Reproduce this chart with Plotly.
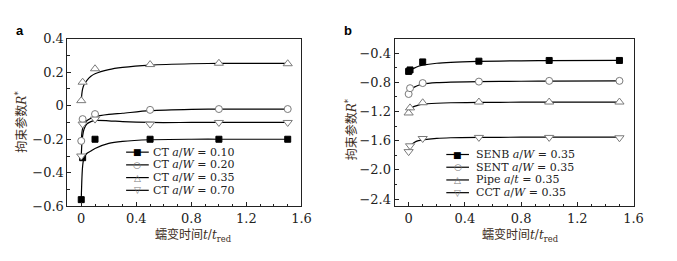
import plotly.graph_objects as go

W, H = 677, 261

# ---------- data ----------
t_pts = [0, 0.01, 0.1, 0.5, 1.0, 1.5]
ct010 = [-0.56, -0.31, -0.20, -0.20, -0.20, -0.20]
ct020 = [-0.21, -0.08, -0.05, -0.025, -0.02, -0.02]
ct035 = [0.03, 0.14, 0.22, 0.245, 0.253, 0.25]
ct070 = [-0.30, -0.11, -0.08, -0.11, -0.10, -0.10]

senb = [-0.65, -0.63, -0.52, -0.51, -0.50, -0.50]
sent = [-0.96, -0.88, -0.81, -0.79, -0.78, -0.78]
pipe = [-1.22, -1.15, -1.08, -1.07, -1.07, -1.07]
cct = [-1.75, -1.67, -1.57, -1.555, -1.555, -1.56]

t_fit = [0, 0.005, 0.01, 0.02, 0.04, 0.07, 0.1, 0.2, 0.3, 0.5, 0.8, 1.0, 1.5]
ct010_fit = [-0.56, -0.43, -0.36, -0.31, -0.285, -0.27, -0.255, -0.225, -0.213, -0.203, -0.2, -0.2, -0.2]
ct020_fit = [-0.21, -0.16, -0.135, -0.115, -0.09, -0.075, -0.065, -0.052, -0.045, -0.03, -0.022, -0.02, -0.02]
ct035_fit = [0.03, 0.075, 0.10, 0.125, 0.15, 0.175, 0.19, 0.215, 0.228, 0.242, 0.25, 0.252, 0.252]
ct070_fit = [-0.30, -0.22, -0.18, -0.14, -0.11, -0.095, -0.088, -0.09, -0.095, -0.10, -0.10, -0.10, -0.10]

senb_fit = [-0.66, -0.65, -0.64, -0.625, -0.605, -0.58, -0.565, -0.538, -0.525, -0.513, -0.505, -0.503, -0.50]
sent_fit = [-0.93, -0.91, -0.90, -0.885, -0.865, -0.84, -0.825, -0.805, -0.797, -0.79, -0.785, -0.783, -0.78]
pipe_fit = [-1.19, -1.175, -1.165, -1.15, -1.13, -1.112, -1.10, -1.087, -1.08, -1.075, -1.072, -1.07, -1.07]
cct_fit = [-1.75, -1.72, -1.69, -1.655, -1.625, -1.60, -1.588, -1.568, -1.56, -1.555, -1.552, -1.55, -1.55]

labels_a = ["CT <i>a</i>/<i>W</i> = 0.10", "CT <i>a</i>/<i>W</i> = 0.20",
            "CT <i>a</i>/<i>W</i> = 0.35", "CT <i>a</i>/<i>W</i> = 0.70"]
labels_b = ["SENB <i>a</i>/<i>W</i> = 0.35", "SENT <i>a</i>/<i>W</i> = 0.35",
            "Pipe <i>a</i>/<i>t</i> = 0.35", "CCT <i>a</i>/<i>W</i> = 0.35"]

# ---------- styles ----------
SERIF = "DejaVu Serif, Noto Sans CJK SC"
TITLE_COL = "#3d2e22"
GRAY = "#7a7a7a"
styles = [
    dict(symbol="square", color="black", size=6, line=dict(color="black", width=1)),
    dict(symbol="circle", color="white", size=7, line=dict(color=GRAY, width=1)),
    dict(symbol="triangle-up", color="white", size=8, line=dict(color=GRAY, width=1)),
    dict(symbol="triangle-down", color="white", size=8, line=dict(color=GRAY, width=1)),
]
glyphs = [("■", "black"), ("○", GRAY), ("△", GRAY), ("▽", GRAY)]

fig = go.Figure()

def add_panel(xa, ya, pts, fits):
    for f in fits:
        fig.add_trace(go.Scatter(x=t_fit, y=f, mode="lines", xaxis=xa, yaxis=ya,
                                 line=dict(color="black", width=1.2, shape="spline", smoothing=0.8),
                                 showlegend=False, hoverinfo="skip"))
    for p, st in zip(pts, styles):
        fig.add_trace(go.Scatter(x=t_pts, y=p, mode="markers", xaxis=xa, yaxis=ya,
                                 marker=st, showlegend=False))

add_panel("x", "y", [ct010, ct020, ct035, ct070], [ct010_fit, ct020_fit, ct035_fit, ct070_fit])
add_panel("x2", "y2", [senb, sent, pipe, cct], [senb_fit, sent_fit, pipe_fit, cct_fit])

def px(x):
    return x / W

def py(y):
    return 1 - y / H

axis_common = dict(showline=True, mirror=True, linecolor="#222", linewidth=1,
                   ticks="inside", ticklen=4, tickcolor="#222", showgrid=False, zeroline=False,
                   tickfont=dict(family=SERIF, size=13, color="#222"))

ydom = [py(211.5), py(33.5)]
fig.update_layout(
    width=W, height=H, autosize=False,
    margin=dict(l=0, r=0, t=0, b=0),
    paper_bgcolor="white", plot_bgcolor="white",
    showlegend=False,
    xaxis=dict(domain=[px(68.5), px(306)], range=[-0.1, 1.6], dtick=0.4, tick0=0,
               minor=dict(dtick=0.1, ticks="inside", ticklen=2.5, tickcolor="#222"),
               anchor="y", **axis_common),
    yaxis=dict(domain=ydom, range=[-0.6, 0.4], dtick=0.2, tick0=0,
               minor=dict(dtick=0.1, ticks="inside", ticklen=2.5, tickcolor="#222"),
               anchor="x", **axis_common),
    xaxis2=dict(domain=[px(400.5), px(643)], range=[-0.1, 1.6], dtick=0.4, tick0=0,
                minor=dict(dtick=0.1, ticks="inside", ticklen=2.5, tickcolor="#222"),
                anchor="y2", **axis_common),
    yaxis2=dict(domain=ydom, range=[-2.5, -0.2], dtick=0.4, tick0=-0.4, tickformat=".1f",
                minor=dict(dtick=0.2, ticks="inside", ticklen=2.5, tickcolor="#222"),
                anchor="x2", **axis_common),
)

ann = []
# panel letters
ann.append(dict(x=px(20), y=py(24.5), text="<b>a</b>",
                font=dict(family="Liberation Sans", size=13, color="black")))
ann.append(dict(x=px(353), y=py(24.5), text="<b>b</b>",
                font=dict(family="Liberation Sans", size=13, color="black")))
# axis titles
ytitle = "拘束参数<i>R</i><sup>*</sup>"
xtitle = "蠕变时间<i>t</i>/<i>t</i><sub>red</sub>"
ann.append(dict(x=px(21), y=py(122), text=ytitle, textangle=-90,
                font=dict(family=SERIF, size=12, color=TITLE_COL)))
ann.append(dict(x=px(356), y=py(130), text=ytitle, textangle=-90,
                font=dict(family=SERIF, size=12, color=TITLE_COL)))
ann.append(dict(x=px(196), y=py(242), text=xtitle,
                font=dict(family=SERIF, size=12, color=TITLE_COL)))
ann.append(dict(x=px(528), y=py(242), text=xtitle,
                font=dict(family=SERIF, size=12, color=TITLE_COL)))

shapes = []
def legend(x0, x1, xt, rows, labels):
    for yy, lab, (g, gc) in zip(rows, labels, glyphs):
        shapes.append(dict(type="line", xref="paper", yref="paper",
                           x0=px(x0), x1=px(x1), y0=py(yy), y1=py(yy),
                           line=dict(color="black", width=1.2)))
        ann.append(dict(x=px((x0 + x1) / 2), y=py(yy), text=g,
                        font=dict(family="DejaVu Sans", size=9, color=gc)))
        ann.append(dict(x=px(xt), y=py(yy), text=lab, xanchor="left",
                        font=dict(family=SERIF, size=11, color="#222")))

legend(128, 151, 153, [154, 167.5, 181, 194.5], labels_a)
legend(453, 476, 481, [156.5, 170, 183.5, 197], labels_b)

for a in ann:
    a.setdefault("xref", "paper")
    a.setdefault("yref", "paper")
    a.setdefault("xanchor", "center")
    a.setdefault("yanchor", "middle")
    a.setdefault("showarrow", False)
fig.update_layout(annotations=ann, shapes=shapes)

fig.write_html("out.html", config={"displayModeBar": False},
               post_script="document.body.style.margin='0';")
